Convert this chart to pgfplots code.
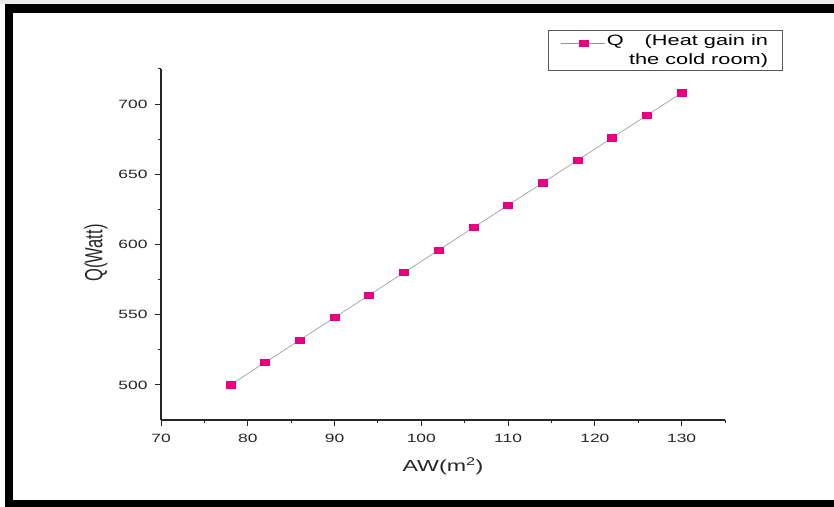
\documentclass[border=0pt]{standalone}
\usepackage{pgfplots}
\pgfplotsset{compat=1.18}
\usepackage{graphicx}
\usepackage{fontspec}
\setmainfont{Liberation Sans}[FakeStretch=1.45]
\newfontfamily\plainsans{Liberation Sans}
\definecolor{qpink}{RGB}{232,0,128}
\definecolor{qline}{RGB}{150,150,150}

\begin{document}
\begin{tikzpicture}[x=1bp,y=1bp]
\useasboundingbox (0,0) rectangle (834,507);
% frame round the figure
\fill[black!8] (0,503) rectangle (834,507);
\fill[black] (5,494) rectangle (834,503);
\fill[black] (5,0) rectangle (13,503);
\fill[black] (5,0) rectangle (834,7);

\begin{axis}[
  scale only axis, width=564bp, height=351bp,
  at={(161bp,87bp)}, anchor=south west,
  xmin=70, xmax=135, ymin=475, ymax=725,
  axis x line*=bottom, axis y line*=left,
  axis line style={line width=1.1bp, black!85},
  xtick={70,80,...,130}, minor xtick={75,85,...,135},
  ytick={500,550,...,700}, minor ytick={525,575,...,725},
  tick align=outside,
  major tick length=6bp, minor tick length=3.5bp,
  every tick/.style={line width=1bp, black!85},
  /pgf/number format/assume math mode=true,
  ticklabel style={font=\fontsize{12bp}{14bp}\selectfont, black!85},
  xticklabel style={yshift=-5bp},
  yticklabel style={xshift=-4bp},
  xlabel={AW(m\textsuperscript{2})},
  xlabel style={font=\fontsize{16bp}{19bp}\selectfont, black!85,
    at={(axis description cs:0.5,0)}, anchor=base, yshift=-52bp},
  ylabel={\scalebox{1}[1.5]{\plainsans\fontsize{16.5bp}{19bp}\selectfont Q(Watt)}},
  ylabel style={black!85, at={(axis description cs:0,0.476)}, anchor=center, yshift=65bp},
  legend style={at={(axis description cs:0.686,1.111)}, anchor=north west,
    draw=black!65, line width=0.6bp, font=\fontsize{15bp}{19bp}\selectfont,
    inner xsep=12bp, inner ysep=2.5bp, text=black,
    cells={align=right}},
  legend image code/.code={
    \draw[mark repeat=2, mark phase=2] plot coordinates {(0bp,7bp) (23bp,7bp) (44bp,7bp)};
  },
]
\addplot[qline, line width=0.6bp, mark=square*, mark size=3.1bp,
  mark options={fill=qpink, draw=qpink, xscale=1.45, solid}]
  coordinates {
  (78,500) (82,516) (86,532) (90,548) (94,564) (98,580) (102,596)
  (106,612) (110,628) (114,644) (118,660) (122,676) (126,692) (130,708)
  };
\addlegendentry{Q\hspace{21bp}(Heat gain in\\the cold room)}
\end{axis}
\end{tikzpicture}
\end{document}
